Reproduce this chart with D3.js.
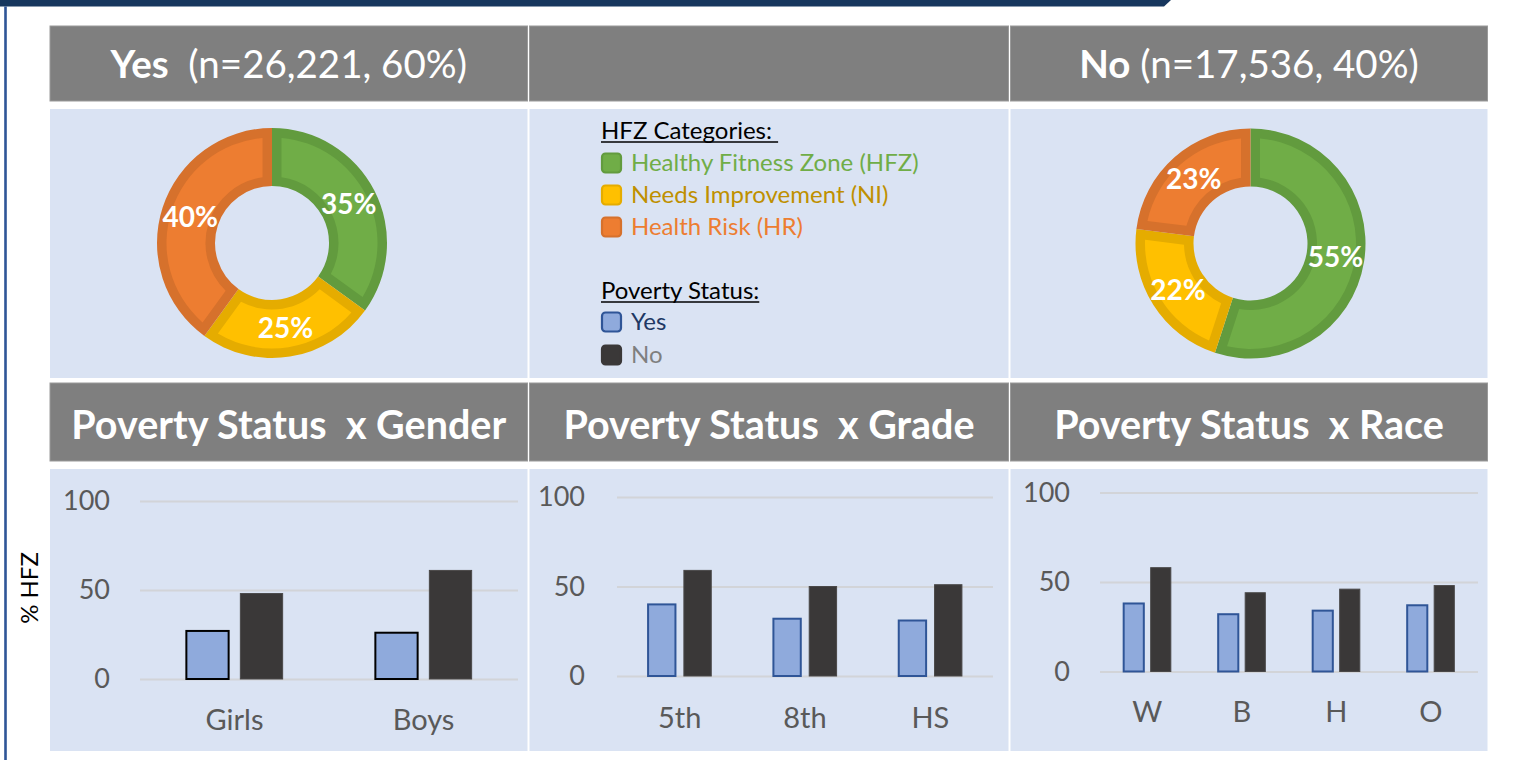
<!DOCTYPE html>
<html><head><meta charset="utf-8">
<script src="https://cdn.jsdelivr.net/npm/d3@7"></script>
<style>
body{margin:0;background:#fff;}
svg{display:block;font-family:Lato,"Open Sans",sans-serif;}
text{white-space:pre;}
</style>
</head><body>
<svg id="chart" width="1533" height="760"></svg>
<script>
// ---------------- DATA ----------------
const hfzCategories = ["Healthy Fitness Zone (HFZ)", "Needs Improvement (NI)", "Health Risk (HR)"];
const povertyLabels = ["Yes", "No"];
const donutYesValues = [35, 25, 40];
const donutNoValues = [55, 22, 23];
const yesHeaderBold = "Yes";
const yesHeaderRest = "  (n=26,221, 60%)";
const noHeaderBold = "No";
const noHeaderRest = " (n=17,536, 40%)";
const panelTitles = ["Poverty Status  x Gender", "Poverty Status  x Grade", "Poverty Status  x Race"];
const genderCategories = ["Girls", "Boys"];
const genderYes = [27, 26];
const genderNo = [48, 61];
const gradeCategories = ["5th", "8th", "HS"];
const gradeYes = [40, 32, 31];
const gradeNo = [59, 50, 51];
const raceCategories = ["W", "B", "H", "O"];
const raceYes = [38, 32, 34, 37];
const raceNo = [58, 44, 46, 48];
const yTicks = [0, 50, 100];
const yAxisTitle = "% HFZ";
const legendTitleHFZ = "HFZ Categories: ";
const legendTitlePoverty = "Poverty Status:";

// ---------------- STYLE ----------------
const hfzFill = ["#70AD47", "#FFC000", "#ED7D31"];
const hfzBorder = ["#629B3E", "#E5AC00", "#D6712C"];
const hfzText = ["#70AD47", "#BF9000", "#ED7D31"];
const povFill = ["#8FAADC", "#3A3838"];
const povStroke = ["#2F5597", "#3A3838"];
const povText = ["#203864", "#7F7F7F"];

const svg = d3.select("#chart");

// page decoration
svg.append("polygon").attr("points", "0,0 1171,0 1164,6.5 0,6.5").attr("fill", "#17375E");
svg.append("rect").attr("x", 4.2).attr("y", 6.5).attr("width", 2.6).attr("height", 760).attr("fill", "#2F5597");

// grid cells
const cols = [[50, 527.5], [529.5, 1008.5], [1010.5, 1487.5]];
const rows = {h1: [26, 101], p1: [109, 378], h2: [383, 461], p2: [469, 751]};
cols.forEach(c => {
  svg.append("rect").attr("x", c[0]).attr("y", rows.h1[0]).attr("width", c[1]-c[0]).attr("height", rows.h1[1]-rows.h1[0])
    .attr("fill", "#7F7F7F").attr("stroke", "#9a9a9a").attr("stroke-width", 1);
  svg.append("rect").attr("x", c[0]).attr("y", rows.p1[0]).attr("width", c[1]-c[0]).attr("height", rows.p1[1]-rows.p1[0]).attr("fill", "#DAE3F3");
  svg.append("rect").attr("x", c[0]).attr("y", rows.h2[0]).attr("width", c[1]-c[0]).attr("height", rows.h2[1]-rows.h2[0])
    .attr("fill", "#7F7F7F").attr("stroke", "#9a9a9a").attr("stroke-width", 1);
  svg.append("rect").attr("x", c[0]).attr("y", rows.p2[0]).attr("width", c[1]-c[0]).attr("height", rows.p2[1]-rows.p2[0]).attr("fill", "#DAE3F3");
});

// top headers
function header(cx, bold, rest) {
  const t = svg.append("text").attr("x", cx).attr("y", 78).attr("text-anchor", "middle")
    .attr("fill", "#fff").attr("font-size", 38.5);
  t.append("tspan").attr("font-weight", "bold").text(bold);
  t.append("tspan").text(rest);
}
header((cols[0][0]+cols[0][1])/2, yesHeaderBold, yesHeaderRest);
header((cols[2][0]+cols[2][1])/2, noHeaderBold, noHeaderRest);

// panel titles
panelTitles.forEach((t, i) => {
  svg.append("text").attr("x", (cols[i][0]+cols[i][1])/2).attr("y", 439).attr("text-anchor", "middle")
    .attr("fill", "#fff").attr("font-size", 39.5).attr("font-weight", "bold").text(t);
});

// donuts
function donut(cx, cy, values) {
  const g = svg.append("g").attr("transform", `translate(${cx},${cy})`);
  const pie = d3.pie().sort(null).value(d => d);
  const arcs = pie(values);
  const r0 = 57, r1 = 115, band = 9.5;
  const outer = d3.arc().innerRadius(r0).outerRadius(r1);
  const inner = d3.arc().innerRadius(r0 + band).outerRadius(r1 - band).padRadius(100).padAngle(2*band/100);
  g.selectAll("path.o").data(arcs).join("path").attr("class", "o").attr("d", outer).attr("fill", (d, i) => hfzBorder[i]);
  g.selectAll("path.i").data(arcs).join("path").attr("class", "i").attr("d", inner).attr("fill", (d, i) => hfzFill[i]);
  const lab = d3.arc().innerRadius(86).outerRadius(86);
  g.selectAll("text").data(arcs).join("text")
    .attr("x", d => lab.centroid(d)[0]).attr("y", d => lab.centroid(d)[1]).attr("dy", "0.36em")
    .attr("text-anchor", "middle").attr("fill", "#fff").attr("font-weight", "bold").attr("font-size", 28)
    .text(d => d.data + "%");
}
donut(272, 243, donutYesValues);
donut(1250.5, 243.5, donutNoValues);

// legend
const lg = svg.append("g");
const legendFont = 24;
function underlinedTitle(x, y, txt) {
  const t = lg.append("text").attr("x", x).attr("y", y).attr("font-size", legendFont).attr("fill", "#000").text(txt);
  const w = t.node().getComputedTextLength();
  lg.append("line").attr("x1", x).attr("x2", x + w).attr("y1", y + 3).attr("y2", y + 3).attr("stroke", "#000").attr("stroke-width", 1.4);
}
underlinedTitle(601, 139, legendTitleHFZ);
const hfzY = [163, 195, 227];
hfzCategories.forEach((c, i) => {
  lg.append("rect").attr("x", 602).attr("y", hfzY[i]-9.5).attr("width", 19).attr("height", 19).attr("rx", 3.5)
    .attr("fill", hfzFill[i]).attr("stroke", hfzBorder[i]).attr("stroke-width", 2.2);
  lg.append("text").attr("x", 631).attr("y", hfzY[i]).attr("dy", "0.35em").attr("font-size", legendFont).attr("fill", hfzText[i]).text(c);
});
underlinedTitle(601, 299, legendTitlePoverty);
const povY = [322, 355];
povertyLabels.forEach((c, i) => {
  lg.append("rect").attr("x", 602).attr("y", povY[i]-9.5).attr("width", 19).attr("height", 19).attr("rx", 3.5)
    .attr("fill", povFill[i]).attr("stroke", povStroke[i]).attr("stroke-width", 2.2);
  lg.append("text").attr("x", 631).attr("y", povY[i]).attr("dy", "0.35em").attr("font-size", legendFont).attr("fill", povText[i]).text(c);
});

// bar charts
function barChart(cats, yes, no, box, yesStroke) {
  const g = svg.append("g");
  const x = d3.scaleBand().domain(cats).range([box.x0, box.x1]).paddingInner(0.48).paddingOuter(0.24);
  const xs = d3.scaleBand().domain(povertyLabels).range([0, x.bandwidth()]).paddingInner(0.18);
  const y = d3.scaleLinear().domain([0, 100]).range([box.yZero, box.yTop]);
  const ax = g.append("g").attr("transform", `translate(${box.x0},0)`)
    .call(d3.axisLeft(y).tickValues(yTicks).tickSize(-(box.x1 - box.x0)).tickPadding(box.pad).tickFormat(d3.format("d")));
  ax.select(".domain").remove();
  ax.selectAll(".tick line").attr("stroke", "#D2D4D8").attr("stroke-width", 1.8);
  ax.selectAll(".tick text").attr("fill", "#595959").attr("font-size", 27).attr("font-family", "Lato");
  const bx = g.append("g").attr("transform", `translate(0,${box.yZero})`)
    .call(d3.axisBottom(x).tickSize(0).tickPadding(box.labPad));
  bx.select(".domain").remove();
  bx.selectAll(".tick text").attr("fill", "#595959").attr("font-size", 29).attr("font-family", "Lato");
  const series = [yes, no];
  series.forEach((vals, s) => {
    g.selectAll(null).data(cats).join("rect")
      .attr("x", c => x(c) + xs(povertyLabels[s]) + 1)
      .attr("width", xs.bandwidth() - 2)
      .attr("y", (c, i) => y(vals[i]))
      .attr("height", (c, i) => y(0) - y(vals[i]))
      .attr("fill", povFill[s])
      .attr("stroke", s === 0 ? yesStroke : "#4a4848")
      .attr("stroke-width", s === 0 ? 2 : 1);
  });
}
barChart(genderCategories, genderYes, genderNo, {x0: 140, x1: 518, yZero: 679, yTop: 501, pad: 30, labPad: 30}, "#000");
barChart(gradeCategories, gradeYes, gradeNo, {x0: 617, x1: 993, yZero: 676, yTop: 497, pad: 32, labPad: 31}, "#2F5597");
barChart(raceCategories, raceYes, raceNo, {x0: 1100, x1: 1478, yZero: 671.5, yTop: 492.5, pad: 30, labPad: 30}, "#2F5597");

// y axis title
svg.append("text").attr("transform", "translate(30,588) rotate(-90)").attr("text-anchor", "middle").attr("dy", "0.35em")
  .attr("font-size", 24).attr("fill", "#000").text(yAxisTitle);
</script>
</body></html>
